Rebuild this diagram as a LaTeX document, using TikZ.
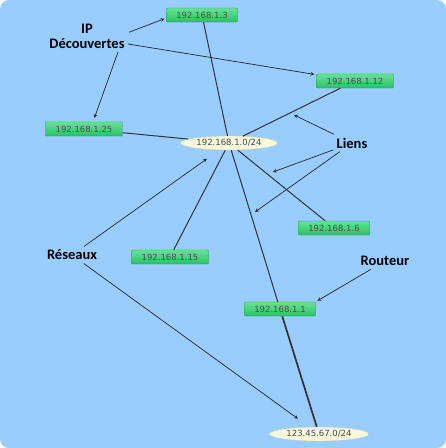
\documentclass[tikz,border=0pt]{standalone}
\usepackage{fontspec}
\setmainfont{Carlito}
\newfontfamily\ipfont{DejaVu Sans}
\usepackage{xcolor}
\usetikzlibrary{shapes.geometric}

\definecolor{bgblue}{HTML}{99CCFF}
\definecolor{hosttop}{HTML}{66E394}
\definecolor{hostbot}{HTML}{2CC064}
\definecolor{hostline}{HTML}{1F9A4C}
\definecolor{netfill}{HTML}{F6F9DC}
\definecolor{netline}{HTML}{CDD5A8}

\tikzset{
  host/.style={draw=hostline, top color=hosttop, bottom color=hostbot, rounded corners=1pt,
    minimum width=71pt, minimum height=14pt, inner sep=1pt,
    font=\ipfont\fontsize{8.5}{9}\selectfont, text=black!70},
  net/.style={ellipse, draw=netline, fill=netfill, minimum width=97pt, minimum height=14pt,
    inner sep=0pt, font=\ipfont\fontsize{8.5}{9}\selectfont, text=black!70},
  link/.style={draw=black!80, line width=1pt},
  note/.style={font=\bfseries\fontsize{14.5}{15}\selectfont, align=center},
  callout/.style={->, >=stealth, black!85, line width=0.7pt}
}

\begin{document}
\begin{tikzpicture}[x=1pt, y=-1pt]
\useasboundingbox (0,0) rectangle (446,448);
\fill[white] (0,0) rectangle (446,448);
\fill[bgblue, rounded corners=9pt] (0,0) rectangle (446,448);

% Networks
\node[net] (net1) at (229,143) {192.168.1.0/24};
\node[net, minimum width=99pt] (net2) at (319,434) {123.45.67.0/24};

% Hosts
\node[host] (h3) at (202,15) {192.168.1.3};
\node[host, minimum width=77pt] (h12) at (355,81) {192.168.1.12};
\node[host, minimum width=77pt] (h25) at (84,129) {192.168.1.25};
\node[host] (h6) at (334,228) {192.168.1.6};
\node[host, minimum width=77pt] (h15) at (170,257) {192.168.1.15};
\node[host] (h1) at (280,309) {192.168.1.1};

% Links
\draw[link] (h3) -- (net1);
\draw[link] (h12) -- (net1);
\draw[link] (h25) -- (net1);
\draw[link] (net1) -- (h15);
\draw[link] (net1) -- (h6);
\draw[link] (net1) -- (h1);
\draw[link, line width=1.7pt] (h1) -- (net2);

% Labels
\node[note] (disc) at (87,36) {IP\\Découvertes};
\node[note] (liens) at (352,143) {Liens};
\node[note] (res) at (72,255) {Réseaux};
\node[note] (rout) at (385,261) {Routeur};

% Free ends of the "Liens" arrows
\coordinate (pA) at (294,115);
\coordinate (pB) at (273,172);
\coordinate (pC) at (255,212);

% Callouts
\draw[callout, shorten >=2pt] (disc.north east) ++(1,12) -- ([yshift=-3pt]h3.west);
\draw[callout, shorten >=2pt] (disc.east) ++(0,8) -- (h12);
\draw[callout, shorten >=4pt] ([xshift=-10pt]disc.south east) -- ([xshift=9pt]h25.north);
\draw[callout] (liens) -- (pA);
\draw[callout] (liens) -- (pB);
\draw[callout] (liens) -- (pC);
\draw[callout, shorten >=15pt] (res) -- (net1);
\draw[callout, shorten >=14pt] (res) -- (net2);
\draw[callout, shorten >=2pt] (rout) -- (h1.north east);

\end{tikzpicture}
\end{document}
